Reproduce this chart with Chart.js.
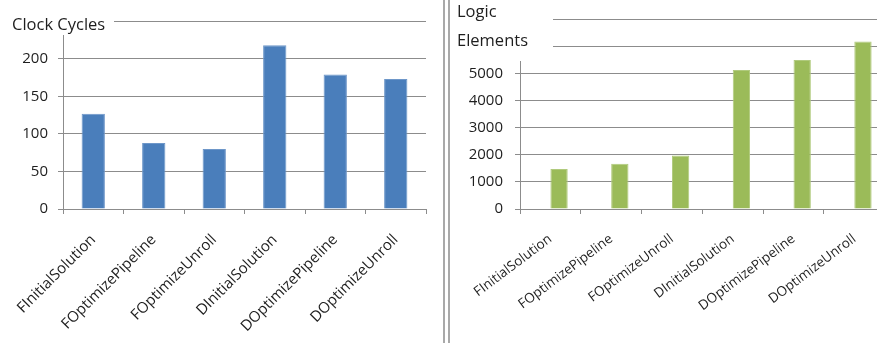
<!DOCTYPE html>
<html>
<head>
<meta charset="utf-8">
<script src="https://cdn.jsdelivr.net/npm/chart.js@4.4.1/dist/chart.umd.min.js"></script>
<style>
  html, body { margin: 0; padding: 0; background: #fff; overflow: hidden; width: 877px; height: 343px; }
  #wrap { position: relative; width: 877px; height: 343px; overflow: hidden; }
  #cycles { position: absolute; left: 0; top: 0; }
  #elements { position: absolute; left: 452px; top: 0; }
  .divider { position: absolute; top: 0; height: 343px; width: 2px; background: #a9a9a9; }
</style>
</head>
<body>
<div id="wrap">
  <canvas id="cycles" width="440" height="343"></canvas>
  <div class="divider" style="left:443px"></div>
  <div class="divider" style="left:448px"></div>
  <canvas id="elements" width="440" height="343"></canvas>
</div>
<script>
// Build variants compared on both charts
const categories = ['FInitialSolution', 'FOptimizePipeline', 'FOptimizeUnroll',
                    'DInitialSolution', 'DOptimizePipeline', 'DOptimizeUnroll'];

// Clock cycles per variant
const clockCycles = [127, 88, 80, 218, 179, 173];
const clockTicks = [0, 50, 100, 150, 200, 250];

// Logic elements per variant (first series of this sheet is empty)
const logicBlank = [null, null, null, null, null, null];
const logicElements = [1480, 1670, 1970, 5130, 5500, 6180];
const logicTicks = [0, 1000, 2000, 3000, 4000, 5000, 6000, 7000];

const FONT = "'Open Sans', 'DejaVu Sans', sans-serif";
const TEXT = '#1e1e1e';
const GRID = '#8c8c8c';

// Axis title drawn on a white box that sits over the top of the plot
const boxTitle = {
  id: 'boxTitle',
  afterDraw(chart, args, opts) {
    const ctx = chart.ctx;
    ctx.save();
    ctx.fillStyle = '#fff';
    ctx.fillRect(opts.box[0], opts.box[1], opts.box[2], opts.box[3]);
    ctx.fillStyle = TEXT;
    ctx.font = opts.size + 'px ' + FONT;
    ctx.textBaseline = 'alphabetic';
    ctx.textAlign = 'left';
    opts.lines.forEach((t, i) => ctx.fillText(t, opts.x, opts.y[i]));
    ctx.restore();
  }
};

function makeChart(id, cfg) {
  return new Chart(document.getElementById(id), {
    type: 'bar',
    data: { labels: categories, datasets: cfg.datasets },
    options: {
      responsive: false,
      animation: false,
      devicePixelRatio: 1,
      layout: { padding: { top: cfg.top, right: cfg.right, left: 0, bottom: 0 } },
      plugins: { legend: { display: false }, tooltip: { enabled: false }, boxTitle: cfg.title },
      datasets: { bar: { categoryPercentage: cfg.catPct, barPercentage: cfg.barPct } },
      scales: {
        x: {
          offset: true,
          grid: { offset: true, drawOnChartArea: false, drawTicks: true, tickLength: 5, color: GRID },
          border: { color: GRID, width: 1 },
          ticks: {
            autoSkip: false, minRotation: cfg.rot, maxRotation: cfg.rot,
            padding: cfg.xPad, color: TEXT, font: { family: FONT, size: cfg.xSize }
          },
          afterFit(s) {
            s.height = 343 - 209;
            s.paddingLeft = 0;
            s.paddingRight = 0;
          }
        },
        y: {
          min: cfg.ticks[0], max: cfg.ticks[cfg.ticks.length - 1],
          afterBuildTicks(s) { s.ticks = cfg.ticks.map(v => ({ value: v })); },
          grid: { color: GRID, lineWidth: 1, drawTicks: true, tickLength: 5 },
          border: { color: GRID, width: 1 },
          ticks: {
            padding: cfg.yPad, color: TEXT, font: { family: FONT, size: 15 },
            callback: v => String(v)
          },
          afterFit(s) {
            s.width = cfg.yWidth;
            s.paddingTop = 0;
            s.paddingBottom = 0;
          }
        }
      }
    },
    plugins: [boxTitle]
  });
}

makeChart('cycles', {
  datasets: [{ data: clockCycles, backgroundColor: '#4a7ebb', borderColor: '#6e97c9', borderWidth: 1 }],
  ticks: clockTicks,
  top: 21.3, right: 14, yWidth: 63, yPad: 10,
  catPct: 1, barPct: 0.385,
  rot: 45, xPad: 17, xSize: 15,
  title: { lines: ['Clock Cycles'], x: 12, y: [29.5], size: 16.5, box: [0, 0, 114, 35] }
});

makeChart('elements', {
  datasets: [
    { data: logicBlank, backgroundColor: '#4a7ebb' },
    { data: logicElements, backgroundColor: '#9bbb59', borderColor: '#b0ca7d', borderWidth: 1 }
  ],
  ticks: logicTicks,
  top: 19.3, right: 7.3, yWidth: 68, yPad: 12,
  catPct: 0.57, barPct: 1,
  rot: 37, xPad: 17, xSize: 13.5,
  title: { lines: ['Logic', 'Elements'], x: 5, y: [17, 46], size: 16.5, box: [0, 0, 101, 61] }
});
</script>
</body>
</html>
